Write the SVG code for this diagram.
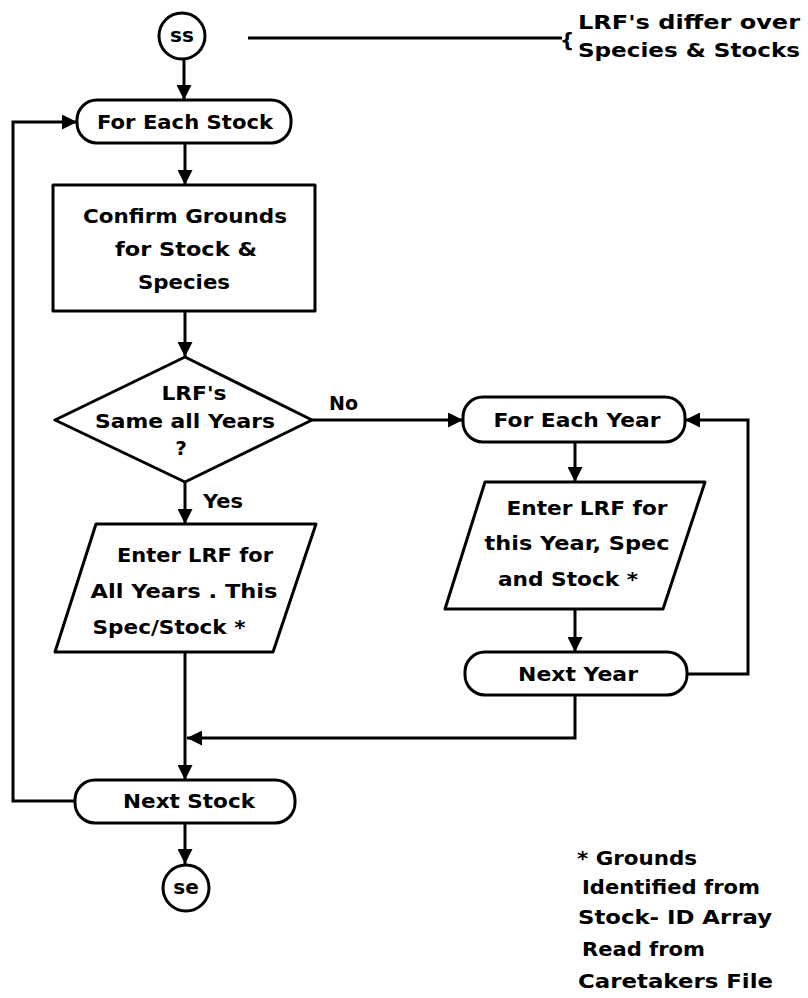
<svg xmlns="http://www.w3.org/2000/svg" width="808" height="998" viewBox="0 0 808 998">
  <defs>
    <marker id="arrow" viewBox="0 0 15 15" refX="15" refY="7.5" markerWidth="15" markerHeight="15" markerUnits="userSpaceOnUse" orient="auto">
      <path d="M0,0 L15,7.5 L0,15 Z" fill="#000"/>
    </marker>
    <style>
      .shape { fill: #fff; stroke: #000; stroke-width: 3; stroke-linejoin: round; }
      .conn { fill: none; stroke: #000; stroke-width: 3; }
      text { font-family: "DejaVu Sans", "Liberation Sans", sans-serif; font-weight: bold; font-size: 20px; fill: #000; }
      .c { text-anchor: middle; dominant-baseline: central; }
      .l { dominant-baseline: central; }
    </style>
  </defs>
  <rect width="808" height="998" fill="#fff"/>

  <!-- connectors -->
  <g id="connectors">
    <path class="conn" marker-end="url(#arrow)" d="M184,59 L184,100"/>
    <path class="conn" marker-end="url(#arrow)" d="M185,143 L185,185"/>
    <path class="conn" marker-end="url(#arrow)" d="M185,311 L185,357"/>
    <path class="conn" marker-end="url(#arrow)" d="M185,482 L185,524"/>
    <path class="conn" marker-end="url(#arrow)" d="M312,420 L463,420"/>
    <path class="conn" marker-end="url(#arrow)" d="M575,442 L575,482"/>
    <path class="conn" marker-end="url(#arrow)" d="M575,609 L575,652"/>
    <path class="conn" marker-end="url(#arrow)" d="M687,674 L748,674 L748,420 L685,420"/>
    <path class="conn" marker-end="url(#arrow)" d="M575,695 L575,738 L187,738"/>
    <path class="conn" marker-end="url(#arrow)" d="M185,652 L185,780"/>
    <path class="conn" marker-end="url(#arrow)" d="M75,801 L13,801 L13,122 L77,122"/>
    <path class="conn" marker-end="url(#arrow)" d="M185,823 L185,864"/>
    <path class="conn" d="M248,38 L562,38"/>
    <text x="329" y="403" class="l" textLength="29" lengthAdjust="spacingAndGlyphs">No</text>
    <text x="203" y="501" class="l" textLength="40" lengthAdjust="spacingAndGlyphs">Yes</text>
  </g>

  <g id="start">
    <circle class="shape" cx="182" cy="36" r="23"/>
    <text x="182" y="35" class="c" font-size="22">ss</text>
  </g>

  <g id="note">
    <text x="567" y="40" class="c" font-size="28" font-weight="normal">{</text>
    <text x="578" y="22" class="l" textLength="222" lengthAdjust="spacingAndGlyphs">LRF's differ over</text>
    <text x="578" y="50" class="l" textLength="222" lengthAdjust="spacingAndGlyphs">Species &amp; Stocks</text>
  </g>

  <g id="for-each-stock">
    <rect class="shape" x="77" y="100" width="214" height="43" rx="20" ry="20"/>
    <text x="185" y="122" class="c" textLength="176" lengthAdjust="spacingAndGlyphs">For Each Stock</text>
  </g>

  <g id="confirm">
    <rect class="shape" x="53" y="185" width="262" height="126"/>
    <text x="185" y="216" class="c" textLength="204" lengthAdjust="spacingAndGlyphs">Confirm Grounds</text>
    <text x="186" y="249" class="c" textLength="142" lengthAdjust="spacingAndGlyphs">for Stock &amp;</text>
    <text x="184" y="282" class="c" textLength="92" lengthAdjust="spacingAndGlyphs">Species</text>
  </g>

  <g id="decision">
    <path class="shape" d="M185,357 L312,420 L185,482 L55,420 Z"/>
    <text x="194" y="393" class="c" textLength="65" lengthAdjust="spacingAndGlyphs">LRF's</text>
    <text x="185" y="421" class="c" textLength="180" lengthAdjust="spacingAndGlyphs">Same all Years</text>
    <text x="181" y="448" class="c">?</text>
  </g>

  <g id="enter-all-years">
    <path class="shape" d="M96,524 L316,524 L273,652 L55,652 Z"/>
    <text x="195" y="555" class="c" textLength="156" lengthAdjust="spacingAndGlyphs">Enter LRF for</text>
    <text x="184" y="591" class="c" textLength="187" lengthAdjust="spacingAndGlyphs">All Years . This</text>
    <text x="169" y="627" class="c" textLength="153" lengthAdjust="spacingAndGlyphs">Spec/Stock *</text>
  </g>

  <g id="for-each-year">
    <rect class="shape" x="463" y="397" width="222" height="45" rx="20" ry="20"/>
    <text x="577" y="420" class="c" textLength="167" lengthAdjust="spacingAndGlyphs">For Each Year</text>
  </g>

  <g id="enter-this-year">
    <path class="shape" d="M485,482 L705,482 L663,609 L445,609 Z"/>
    <text x="587" y="508" class="c" textLength="161" lengthAdjust="spacingAndGlyphs">Enter LRF for</text>
    <text x="577" y="543" class="c" textLength="185" lengthAdjust="spacingAndGlyphs">this Year, Spec</text>
    <text x="568" y="579" class="c" textLength="140" lengthAdjust="spacingAndGlyphs">and Stock *</text>
  </g>

  <g id="next-year">
    <rect class="shape" x="465" y="652" width="222" height="43" rx="20" ry="20"/>
    <text x="578" y="674" class="c" textLength="120" lengthAdjust="spacingAndGlyphs">Next Year</text>
  </g>

  <g id="next-stock">
    <rect class="shape" x="75" y="780" width="220" height="43" rx="20" ry="20"/>
    <text x="189" y="801" class="c" textLength="132" lengthAdjust="spacingAndGlyphs">Next Stock</text>
  </g>

  <g id="end">
    <circle class="shape" cx="186" cy="888" r="23"/>
    <text x="186" y="887" class="c" font-size="22">se</text>
  </g>

  <g id="footnote">
    <text x="577" y="858" class="l" textLength="120" lengthAdjust="spacingAndGlyphs">* Grounds</text>
    <text x="582" y="887" class="l" textLength="178" lengthAdjust="spacingAndGlyphs">Identified from</text>
    <text x="578" y="917" class="l" textLength="194" lengthAdjust="spacingAndGlyphs">Stock- ID Array</text>
    <text x="582" y="949" class="l" textLength="123" lengthAdjust="spacingAndGlyphs">Read from</text>
    <text x="578" y="981" class="l" textLength="195" lengthAdjust="spacingAndGlyphs">Caretakers File</text>
  </g>
</svg>
